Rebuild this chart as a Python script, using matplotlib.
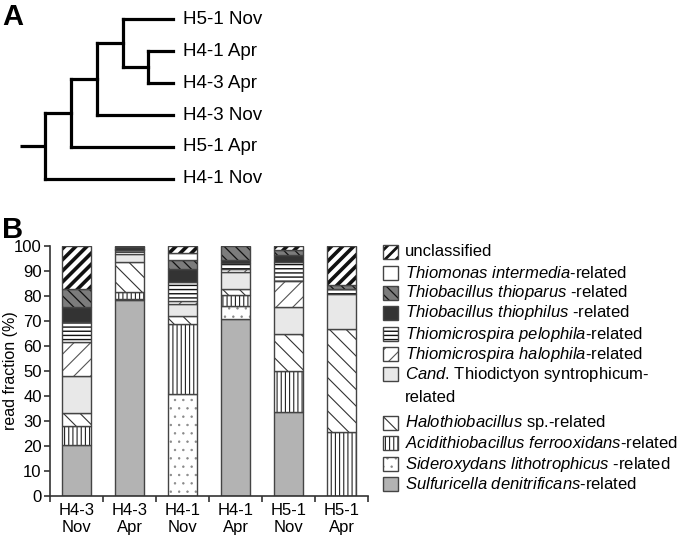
import numpy as np
import matplotlib.pyplot as plt
from matplotlib.patches import Rectangle

plt.rcParams['font.family'] = ['Liberation Sans', 'DejaVu Sans']
plt.rcParams['mathtext.fontset'] = 'custom'
plt.rcParams['mathtext.it'] = 'Liberation Sans:italic'
plt.rcParams['mathtext.rm'] = 'Liberation Sans'
plt.rcParams['hatch.linewidth'] = 0.8

# ---- panel A: tree ----
leaves = ['H5-1 Nov', 'H4-1 Apr', 'H4-3 Apr', 'H4-3 Nov', 'H5-1 Apr', 'H4-1 Nov']
# linkage-like: (child a, child b, height); new nodes get ids 6, 7, ...
merges = [(1, 2, 25), (0, 6, 50), (7, 3, 76), (8, 4, 102), (9, 5, 128)]
root_stub = 153

# ---- panel B: stacked read fractions ----
samples = ['H4-3\nNov', 'H4-3\nApr', 'H4-1\nNov', 'H4-1\nApr', 'H5-1\nNov', 'H5-1\nApr']
sulfuricella = [20.4, 78.3, 0.0, 70.7, 33.7, 0.0]
sideroxydans = [0.0, 0.6, 41.0, 5.3, 0.0, 0.0]
acidithiobacillus = [7.6, 2.6, 28.0, 4.4, 16.3, 25.7]
halothiobacillus = [5.3, 12.1, 3.0, 2.6, 14.7, 41.3]
thiodictyon = [14.7, 3.4, 5.0, 6.5, 10.9, 13.8]
halophila = [13.6, 0.0, 1.1, 1.5, 10.6, 0.0]
pelophila = [8.0, 1.6, 7.5, 2.3, 7.3, 1.9]
thiophilus = [5.9, 1.0, 5.3, 1.1, 2.9, 0.0]
thioparus = [7.3, 0.0, 3.6, 5.6, 2.1, 1.7]
thiomonas = [0.0, 0.0, 2.6, 0.0, 0.0, 0.0]
unclassified = [17.2, 0.4, 2.9, 0.0, 1.5, 15.6]

series = [sulfuricella, sideroxydans, acidithiobacillus, halothiobacillus, thiodictyon,
          halophila, pelophila, thiophilus, thioparus, thiomonas, unclassified]
labels = [r'$\mathit{Sulfuricella\ denitrificans}$-related',
          r'$\mathit{Sideroxydans\ lithotrophicus}$ -related',
          r'$\mathit{Acidithiobacillus\ ferrooxidans}$-related',
          r'$\mathit{Halothiobacillus}$ sp.-related',
          r'$\mathit{Cand}$. Thiodictyon syntrophicum-' + '\nrelated',
          r'$\mathit{Thiomicrospira\ halophila}$-related',
          r'$\mathit{Thiomicrospira\ pelophila}$-related',
          r'$\mathit{Thiobacillus\ thiophilus}$ -related',
          r'$\mathit{Thiobacillus\ thioparus}$ -related',
          r'$\mathit{Thiomonas\ intermedia}$-related',
          'unclassified']
faces = ['#b3b3b3', 'white', 'white', 'white', '#e8e8e8', 'white', 'white',
         '#333333', '#7c7c7c', 'white', 'white']
hatches = [None, '..', '||||', '\\\\', None, '//', '----', None, '\\\\\\', None, '///']
hatch_cols = ['#555555', '#888888', '#222222', '#333333', '#555555', '#555555',
              '#111111', '#333333', '#111111', '#555555', '#111111']
hatch_lws = [0.8, 0.5, 0.8, 0.8, 0.8, 0.8, 1.0, 0.8, 0.9, 0.8, 2.6]
edge = '#444444'


def set_hlw(patch, w):
    if hasattr(patch, 'set_hatch_linewidth'):
        patch.set_hatch_linewidth(w)


fig = plt.figure(figsize=(6.8, 5.37), dpi=100)

# tree
tax = fig.add_axes([20 / 680, 1 - 179 / 537, 153 / 680, 160 / 537])
tax.set_xlim(root_stub, 0)
tax.set_ylim(5, 0)
tax.axis('off')
pos = {i: (0, i) for i in range(len(leaves))}
lw = 2.3
for k, (a, b, h) in enumerate(merges):
    for c in (a, b):
        cx, cy = pos[c]
        tax.plot([cx, h], [cy, cy], color='black', lw=lw, clip_on=False,
                 solid_capstyle='projecting')
    tax.plot([h, h], [pos[a][1], pos[b][1]], color='black', lw=lw, clip_on=False,
             solid_capstyle='projecting')
    pos[len(leaves) + k] = (h, (pos[a][1] + pos[b][1]) / 2)
rx, ry = pos[len(leaves) + len(merges) - 1]
tax.plot([rx, root_stub], [ry, ry], color='black', lw=lw, clip_on=False,
         solid_capstyle='butt')
for i, name in enumerate(leaves):
    tax.annotate(name, (0, i), xytext=(7, 0), textcoords='offset points',
                 va='center', ha='left', fontsize=13.5)

# bars
ax = fig.add_axes([50 / 680, 41 / 537, 318 / 680, 250 / 537])
x = np.arange(len(samples))
width = 0.53
bottom = np.zeros(len(samples))
for vals, fc, h, hc, hw in zip(series, faces, hatches, hatch_cols, hatch_lws):
    vals = np.array(vals)
    m = vals > 0
    with plt.rc_context({'hatch.linewidth': hw}):
        bars = ax.bar(x[m], vals[m], width, bottom=bottom[m], color=fc, hatch=h,
                      edgecolor=hc, linewidth=0)
    for p in bars:
        set_hlw(p, hw)
    ax.bar(x[m], vals[m], width, bottom=bottom[m], fill=False,
           edgecolor=edge, linewidth=1)
    bottom += vals

ax.set_xlim(-0.5, len(samples) - 0.5)
ax.set_ylim(0, 100)
ax.set_yticks(np.arange(0, 101, 10))
ax.set_xticks(x)
ax.set_xticklabels(samples)
ax.set_xticks(np.arange(-0.5, len(samples)), minor=True)
ax.tick_params(axis='x', which='major', length=0, pad=5, labelsize=12)
ax.tick_params(axis='x', which='minor', length=4, direction='out', width=1.2, color='#333333')
ax.tick_params(axis='y', length=4, width=1.2, color='#333333', labelsize=12, pad=2)
for s in ('top', 'right'):
    ax.spines[s].set_visible(False)
for s in ('left', 'bottom'):
    ax.spines[s].set_linewidth(1.2)
    ax.spines[s].set_color('#333333')
ax.set_ylabel('read fraction (%)', fontsize=11.5)
ax.yaxis.set_label_coords(-32 / 318, 0.5)

# legend, drawn top to bottom in pixel space
lax = fig.add_axes([0, 0, 1, 1])
lax.set_xlim(0, 680)
lax.set_ylim(537, 0)
lax.axis('off')
rows = [252, 273, 293, 313, 334, 354, 374, 423, 443, 464, 484]
order = list(range(len(series)))[::-1]
for yc, i in zip(rows, order):
    with plt.rc_context({'hatch.linewidth': min(hatch_lws[i], 2.0)}):
        p = Rectangle((383, yc - 7), 15, 14, facecolor=faces[i], hatch=hatches[i],
                      edgecolor=hatch_cols[i], linewidth=0)
    set_hlw(p, min(hatch_lws[i], 2.0))
    lax.add_patch(p)
    lax.add_patch(Rectangle((383, yc - 7), 15, 14, fill=False, edgecolor=edge, linewidth=1))
    lines = labels[i].split('\n')
    lax.text(405, yc, lines[0], va='center', ha='left', fontsize=12)
    if len(lines) > 1:
        lax.text(405, yc + 23, lines[1], va='center', ha='left', fontsize=12)

fig.text(2 / 680, 1 - 3 / 537, 'A', fontsize=21, fontweight='bold', va='top')
fig.text(2 / 680, 1 - 238 / 537, 'B', fontsize=21, fontweight='bold', va='baseline')

fig.savefig('out.png', dpi=100)
